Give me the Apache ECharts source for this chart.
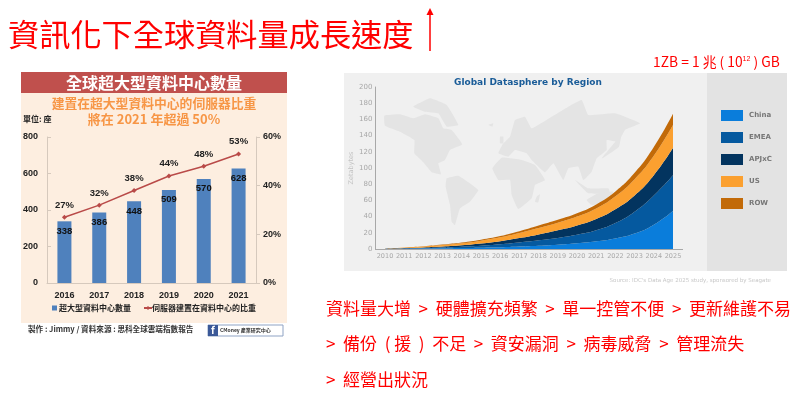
<!DOCTYPE html>
<html><head><meta charset="utf-8">
<script src="https://cdn.jsdelivr.net/npm/echarts@6/dist/echarts.min.js"></script>
<style>html,body{margin:0;padding:0;background:#fff}#c{width:800px;height:396px}</style>
</head><body><div id="c"></div>
<script>
const CJK='"Noto Sans CJK TC","Noto Sans",sans-serif';
const LAT='"Liberation Sans","Noto Sans CJK TC",sans-serif';
const DV='"DejaVu Sans",sans-serif';
const years=['2016','2017','2018','2019','2020','2021'];
const centers=[338,386,448,509,570,628];
const serverShare=[27,32,38,44,48,53];
const regionYears=['2010','2011','2012','2013','2014','2015','2016','2017','2018','2019','2020','2021','2022','2023','2024','2025'];
const china=[.1,.3,.5,.8,1.1,1.5,2.1,3,4,5.3,7,9.5,13,19,30,47];
const emea=[.1,.4,.7,1.2,1.8,2.6,3.7,5,6.7,8.4,10.5,13.5,19,27,36,44];
const apjxc=[.1,.4,.8,1.2,1.8,2.8,3.9,5.5,7.3,9.3,11.5,14,17,20,25,34];
const us=[.1,.6,1,1.6,2.3,3.4,4.7,6.3,8,9.5,11,13,16,20,24,28];
const row=[.1,.3,.5,.7,1,1.2,1.6,2.2,3,3.5,4,5,6,8,11,14];
const regionNames=['China','EMEA','APJxC','US','ROW'];
const regionColors=['#0a7ddb','#05599f','#03345f','#fba030','#c26a08'];
const regionValues=[china,emea,apjxc,us,row];
const barName='超大型資料中心數量', lineName='伺服器建置在資料中心的比重';

const mapShapes=[
 [[28,92],[75,88],[115,100],[150,88],[190,100],[205,130],[230,135],[262,178],[225,195],[210,225],[190,235],[198,268],[170,262],[145,232],[118,205],[118,165],[75,140],[30,122]],
 [[115,65],[165,40],[215,60],[250,120],[215,125],[190,85],[150,80]],
 [[215,280],[250,272],[310,315],[285,350],[255,370],[240,420],[230,410],[225,360],[212,305]],
 [[352,250],[380,218],[440,225],[480,240],[510,285],[480,300],[470,340],[430,372],[410,330],[405,285],[370,285]],
 [[485,335],[495,328],[490,352],[480,350]],
 [[370,205],[385,175],[405,155],[420,105],[450,95],[470,130],[530,95],[580,65],[620,45],[640,90],[720,85],[795,115],[750,135],[730,170],[695,165],[695,195],[665,220],[650,260],[625,285],[610,245],[580,250],[565,285],[535,235],[510,262],[470,225],[455,205],[420,195],[400,215]],
 [[725,165],[740,140],[732,185],[690,215],[680,220]],
 [[600,285],[640,310],[700,310],[705,325],[640,325]],
 [[635,345],[670,325],[715,320],[700,350],[650,360]],
 [[375,155],[385,155],[385,175],[375,175]],
 [[340,120],[355,115],[352,125]]
];
const mapEls=mapShapes.map(p=>({type:'polygon',z:1,shape:{smooth:0.1,points:p.map(q=>[375+q[0]/3,85+q[1]/3])},style:{fill:'#e4e4e4'}}));
const rect=(x,y,w,h,fill,extra)=>({type:'rect',z:0,shape:{x,y,width:w,height:h},style:Object.assign({fill},extra||{})});
const txt=(x,y,text,size,fill,o)=>({type:'text',z:5,x,y,style:Object.assign({text,fontSize:size,fill,fontFamily:CJK,verticalAlign:'middle'},o||{})});

const graphic=[
 rect(21,72,266,251,'#fdeee0'),
 rect(21,72,266,21,'#c0504d'),
 rect(344,73,363,198,'#f0f0f0'),
 rect(707,73,80,198,'#e3e3e3'),
 ...mapEls,
 txt(8,34,'資訊化下全球資料量成長速度',31.2,'#f00',{letterSpacing:2}),
 {type:'line',z:5,shape:{x1:430,y1:12,x2:430,y2:51},style:{stroke:'#f00',lineWidth:1.5}},
 {type:'polygon',z:5,shape:{points:[[430,8],[426.5,15],[433.5,15]]},style:{fill:'#f00'}},
 txt(154,83,'全球超大型資料中心數量',16,'#fff',{fontWeight:'bold',align:'center'}),
 txt(154,103,'建置在超大型資料中心的伺服器比重',12.8,'#f79646',{fontWeight:'bold',align:'center'}),
 txt(154,119,'將在 2021 年超過 50%',13,'#f79646',{fontWeight:'bold',align:'center'}),
 txt(23,119,'單位: 座',8,'#222',{fontWeight:'bold'}),
 txt(28,329,'製作 : Jimmy / 資料來源 : 思科全球雲端指數報告',7.6,'#333',{fontWeight:'bold'}),
 rect(208,325,75,11,'#fff',{stroke:'#8fa3c4',lineWidth:1}),
 rect(208,325,10,11,'#3b5998'),
 txt(211,330.5,'f',10,'#fff',{fontWeight:'bold'}),
 txt(220,330.5,'CMoney 產業研究中心',5,'#333',{fontWeight:'bold'}),
 txt(653,62,'1ZB = 1 兆 ( 10{s|12} ) GB',13.8,'#f00',{rich:{s:{fontSize:7,fill:'#f00',verticalAlign:'top',padding:[0,0,6,0]}}}),
 txt(454,83,'Global Datasphere by Region',9,'#1a5c98',{fontWeight:'bold',fontFamily:DV}),
 txt(771,281,"Source: IDC's Data Age 2025 study, sponsored by Seagate",5.5,'#c8c8c8',{align:'right',fontFamily:DV}),
 txt(326,309,'資料量大增  >  硬體擴充頻繁  >  單一控管不便  >  更新維護不易',17,'#f00'),
 txt(326,344,'>  備份  ( 援  )  不足  >  資安漏洞  >  病毒威脅  >  管理流失',17,'#f00'),
 txt(326,380,'>  經營出狀況',17,'#f00')
];

const leftLabel={fontFamily:LAT,fontSize:9,fontWeight:'bold',color:'#222'};
const greyLabel={fontFamily:DV,fontSize:7,color:'#a8a8a8'};
const option={
 animation:false,
 graphic:{elements:graphic},
 grid:[
  {left:47,right:544,top:137,bottom:113},
  {left:375.4,width:307.2,top:87,bottom:147}
 ],
 legend:[
  {data:[{name:barName,icon:'rect'}],left:52,top:304,itemWidth:5,itemHeight:5,itemGap:2,selectedMode:false,padding:0,textStyle:{fontFamily:CJK,fontSize:8,fontWeight:'bold',color:'#222',padding:[0,0,0,-3]}},
  {data:[{name:lineName}],left:143,top:304,itemWidth:8,itemHeight:5,selectedMode:false,padding:0,textStyle:{fontFamily:CJK,fontSize:8,fontWeight:'bold',color:'#222',padding:[0,0,0,-5]}},
  {data:regionNames.map(n=>({name:n,icon:'rect'})),orient:'vertical',left:721,top:110,itemWidth:22,itemHeight:11,itemGap:11,selectedMode:false,padding:0,textStyle:{fontFamily:DV,fontSize:7,fontWeight:'bold',color:'#777',padding:[0,0,0,1]}}
 ],
 xAxis:[
  {type:'category',gridIndex:0,data:years,axisLine:{lineStyle:{color:'#d6c9bd'}},axisTick:{lineStyle:{color:'#d6c9bd'}},axisLabel:Object.assign({},leftLabel,{margin:8,interval:0})},
  {type:'category',gridIndex:1,data:regionYears,axisLine:{lineStyle:{color:'#a8a8a8',width:1}},axisTick:{show:false},axisLabel:Object.assign({},greyLabel,{fontSize:6.5,margin:4,interval:0})}
 ],
 yAxis:[
  {type:'value',gridIndex:0,min:0,max:800,interval:200,splitLine:{show:false},axisLine:{show:true,lineStyle:{color:'#d6c9bd'}},axisTick:{show:true,inside:true,length:4,lineStyle:{color:'#d6c9bd'}},axisLabel:Object.assign({},leftLabel,{margin:9})},
  {type:'value',gridIndex:0,position:'right',min:0,max:60,interval:20,splitLine:{show:false},axisLine:{show:true,lineStyle:{color:'#d6c9bd'}},axisTick:{show:true,length:4,lineStyle:{color:'#d6c9bd'}},axisLabel:Object.assign({},leftLabel,{margin:7,formatter:'{value}%'})},
  {type:'value',gridIndex:1,min:0,max:200,interval:20,name:'Zetabytes',nameLocation:'middle',nameGap:19,nameRotate:90,nameTextStyle:{fontFamily:DV,fontSize:6.5,color:'#c4c4c4'},splitLine:{show:false},axisLine:{show:true,lineStyle:{color:'#a8a8a8',width:1}},axisTick:{show:false},axisLabel:Object.assign({},greyLabel,{margin:3})}
 ],
 series:[
  {name:barName,type:'bar',xAxisIndex:0,yAxisIndex:0,data:centers,barWidth:14,itemStyle:{color:'#4f81bd'},label:{show:true,position:'insideTop',distance:5,fontFamily:LAT,fontSize:9.5,fontWeight:'bold',color:'#111'}},
  {name:lineName,type:'line',xAxisIndex:0,yAxisIndex:1,data:serverShare,symbol:'diamond',symbolSize:5,itemStyle:{color:'#b94a48'},lineStyle:{color:'#b94a48',width:1.5},label:{show:true,position:'top',distance:5,fontFamily:LAT,fontSize:9.5,fontWeight:'bold',color:'#222',formatter:'{c}%'}},
  ...regionNames.map((n,i)=>({name:n,type:'line',xAxisIndex:1,yAxisIndex:2,stack:'world',data:regionValues[i],smooth:0.5,symbol:'none',itemStyle:{color:regionColors[i]},lineStyle:{width:0,color:regionColors[i]},areaStyle:{color:regionColors[i],opacity:1}}))
 ]
};
echarts.init(document.getElementById('c'),null,{renderer:'canvas'}).setOption(option);
</script></body></html>
